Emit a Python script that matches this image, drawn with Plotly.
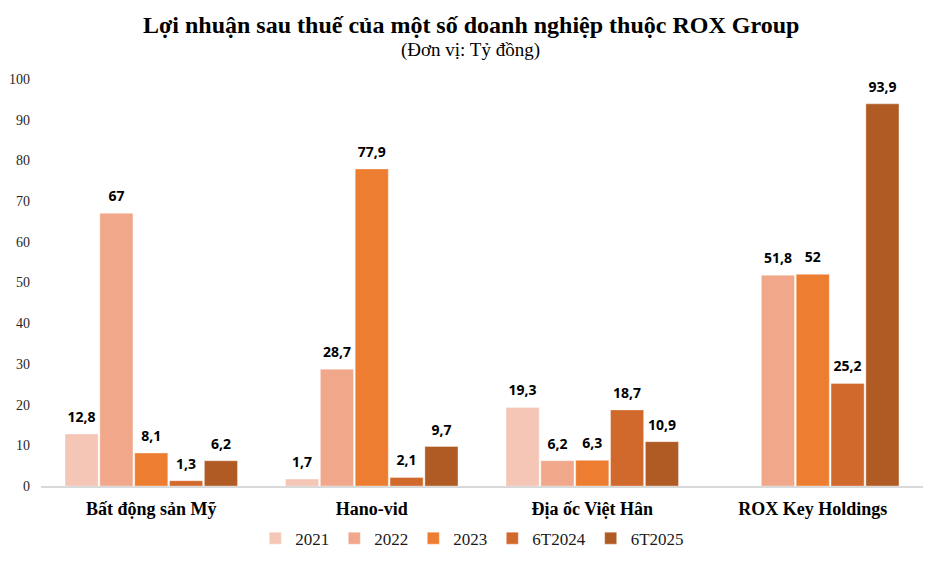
import plotly.graph_objects as go

categories = ["Bất động sản Mỹ", "Hano-vid", "Địa ốc Việt Hân", "ROX Key Holdings"]
series_names = ["2021", "2022", "2023", "6T2024", "6T2025"]
v2021 = [12.8, 1.7, 19.3, None]
v2022 = [67, 28.7, 6.2, 51.8]
v2023 = [8.1, 77.9, 6.3, 52]
v6t2024 = [1.3, 2.1, 18.7, 25.2]
v6t2025 = [6.2, 9.7, 10.9, 93.9]
y_ticks = [0, 10, 20, 30, 40, 50, 60, 70, 80, 90, 100]

colors = ["#F5C6B5", "#F0A78A", "#ED7D31", "#D2692C", "#B15B24"]
all_values = [v2021, v2022, v2023, v6t2024, v6t2025]


def fmt(v):
    if v is None:
        return ""
    return ("%g" % v).replace(".", ",")


fig = go.Figure()
for name, vals, col in zip(series_names, all_values, colors):
    fig.add_trace(go.Bar(
        x=categories, y=vals, name=name, offsetgroup=name,
        marker=dict(color=col, line=dict(color="rgba(255,255,255,0.35)", width=1)),
    ))
for name, vals in zip(series_names, all_values):
    fig.add_trace(go.Scatter(
        x=categories, y=vals, offsetgroup=name, mode="markers+text",
        marker=dict(size=12, opacity=0), showlegend=False, hoverinfo="skip",
        text=[fmt(v) for v in vals], textposition="top center", cliponaxis=False,
        textfont=dict(family="Open Sans", size=14, color="#000000", weight="bold"),
    ))

fig.update_layout(
    width=941, height=564,
    font=dict(family="Liberation Serif"),
    paper_bgcolor="white", plot_bgcolor="white",
    margin=dict(l=41, r=18, t=79, b=78, autoexpand=False),
    barmode="group", bargap=0.21, bargroupgap=0.05,
    scattermode="group", scattergap=0.21,
    showlegend=True,
    legend=dict(orientation="h", x=0.489, xanchor="center", y=-0.085, yanchor="top",
                font=dict(family="Liberation Serif", size=17, color="#1a1a1a"),
                itemwidth=30, traceorder="normal"),
    xaxis=dict(showline=True, linecolor="#D9D9D9", linewidth=2, ticks="",
               tickfont=dict(family="Liberation Serif", size=18, color="#000000", weight="bold"),
               showgrid=False, ticklabelstandoff=5, automargin=False),
    yaxis=dict(range=[0, 100], tickvals=y_ticks, showgrid=False, showline=False,
               zeroline=False, ticks="", automargin=False,
               tickfont=dict(family="Liberation Serif", size=14, color="#262626"),
               ticklabelstandoff=10),
    annotations=[
        dict(text="<b>Lợi nhuận sau thuế của một số doanh nghiệp thuộc ROX Group</b>",
             xref="paper", yref="paper", x=0.487, y=1, yshift=54, xanchor="center", yanchor="middle",
             showarrow=False, font=dict(family="Liberation Serif", size=24, color="#000000")),
        dict(text="(Đơn vị: Tỷ đồng)",
             xref="paper", yref="paper", x=0.487, y=1, yshift=29, xanchor="center", yanchor="middle",
             showarrow=False, font=dict(family="Liberation Serif", size=19, color="#000000")),
    ],
)

fig.write_html("out.html", config={"displayModeBar": False},
               post_script="document.body.style.margin='0';document.body.style.padding='0';")
